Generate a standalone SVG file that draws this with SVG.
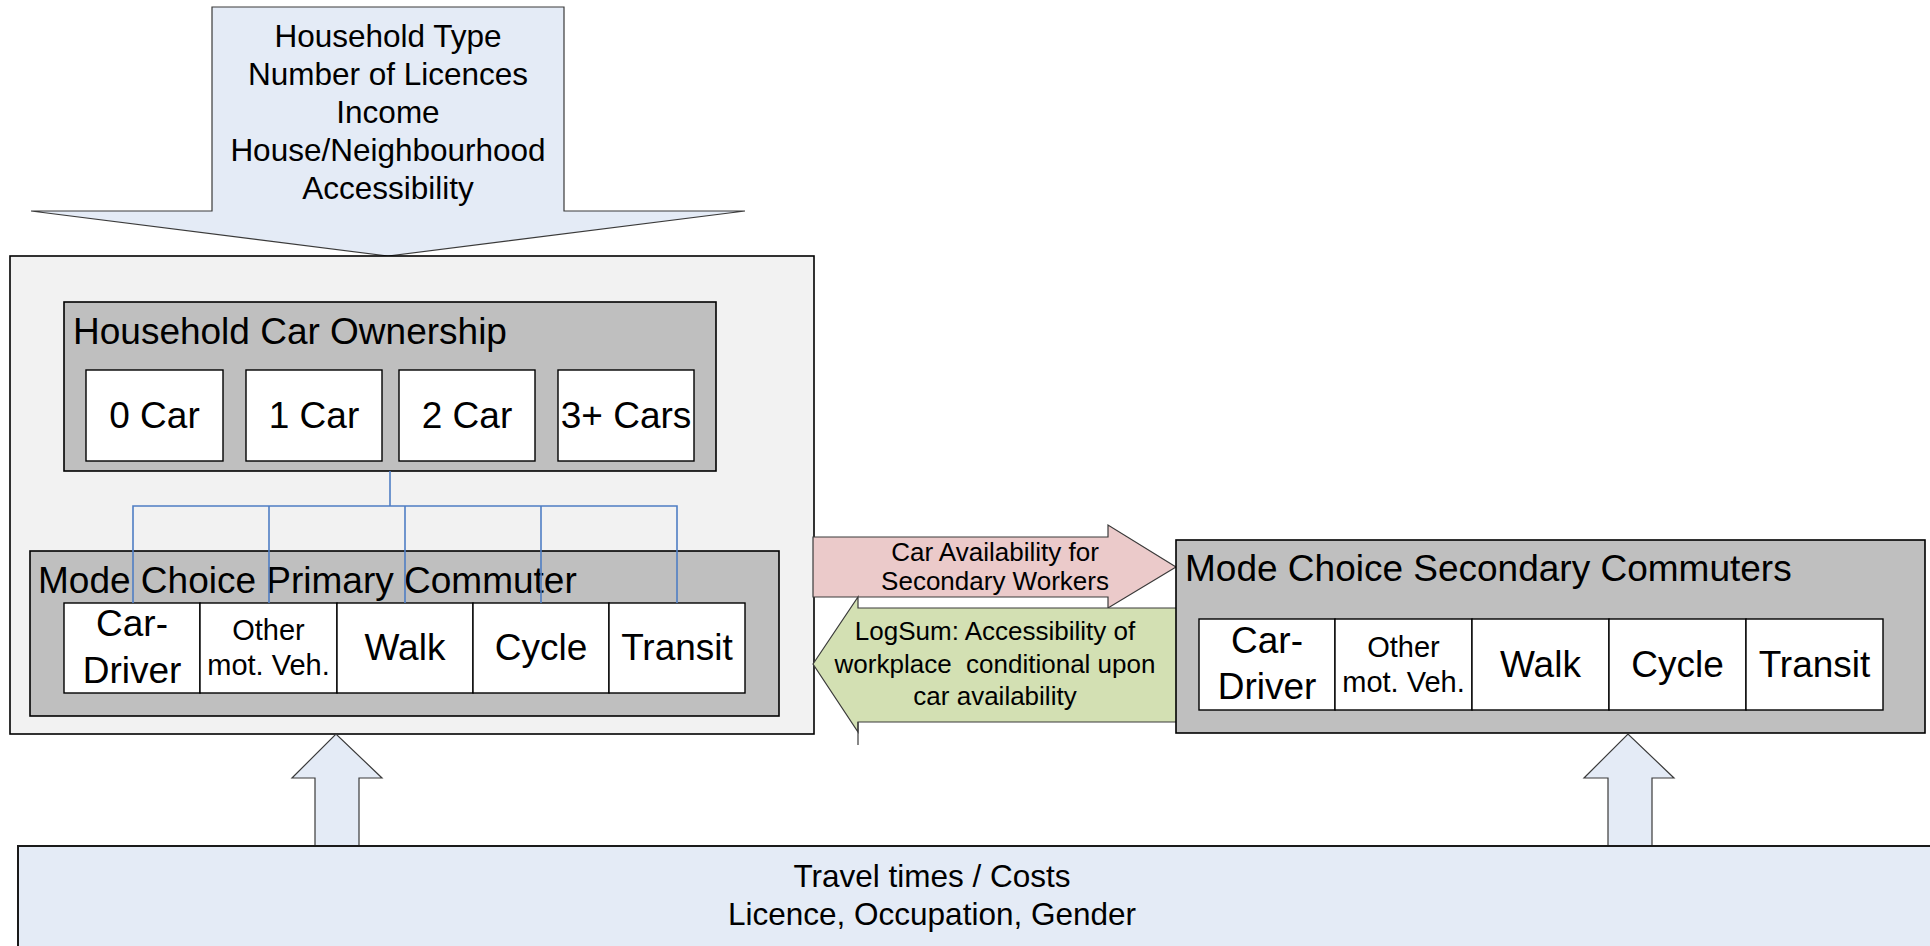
<svg xmlns="http://www.w3.org/2000/svg" width="1930" height="946" viewBox="0 0 1930 946">
  <style>
    text { font-family: "Liberation Sans", Arial, sans-serif; fill: #000; }
    .outer { fill: #f2f2f2; stroke: #000; stroke-width: 1.6; }
    .group { fill: #bfbfbf; stroke: #000; stroke-width: 1.6; }
    .cell { fill: #fff; stroke: #000; stroke-width: 1.4; }
    .blue { fill: #e4ebf6; stroke: #3a3a3a; stroke-width: 1.2; }
    .pink { fill: #ebcaca; stroke: #3a3a3a; stroke-width: 1.2; }
    .green { fill: #d3e0b3; stroke: #3a3a3a; stroke-width: 1.2; }
    .title { font-size: 37px; }
    .big { font-size: 37px; text-anchor: middle; }
    .small { font-size: 29px; text-anchor: middle; }
    .note { font-size: 26px; text-anchor: middle; }
    .input { font-size: 31.5px; text-anchor: middle; }
    .link { fill: none; stroke: #4f7ec4; stroke-width: 1.6; }
  </style>

  <!-- household attributes feeding down -->
  <g id="household-inputs">
    <polygon class="blue" points="212,7 564,7 564,211 745,211 388,256 31,211 212,211"/>
    <text class="input" x="388" y="47">Household Type</text>
    <text class="input" x="388" y="85">Number of Licences</text>
    <text class="input" x="388" y="123">Income</text>
    <text class="input" x="388" y="161">House/Neighbourhood</text>
    <text class="input" x="388" y="199">Accessibility</text>
  </g>

  <!-- primary worker block -->
  <g id="primary-block">
    <rect class="outer" x="10" y="256" width="804" height="478"/>
  </g>

  <g id="car-ownership">
    <rect class="group" x="64" y="302" width="652" height="169"/>
    <text class="title" x="73" y="344">Household Car Ownership</text>
    <rect class="cell" x="86" y="370" width="137" height="91"/>
    <text class="big" x="154.5" y="428">0 Car</text>
    <rect class="cell" x="246" y="370" width="136" height="91"/>
    <text class="big" x="314" y="428">1 Car</text>
    <rect class="cell" x="399" y="370" width="136" height="91"/>
    <text class="big" x="467" y="428">2 Car</text>
    <rect class="cell" x="558" y="370" width="136" height="91"/>
    <text class="big" x="626" y="428">3+ Cars</text>
  </g>

  <g id="mode-primary">
    <rect class="group" x="30" y="551" width="749" height="165"/>
    <text class="title" x="38" y="593">Mode Choice Primary Commuter</text>
    <rect class="cell" x="64" y="603" width="136" height="90"/>
    <rect class="cell" x="200" y="603" width="137" height="90"/>
    <rect class="cell" x="337" y="603" width="136" height="90"/>
    <rect class="cell" x="473" y="603" width="136" height="90"/>
    <rect class="cell" x="609" y="603" width="136" height="90"/>
    <text class="big" x="132" y="636">Car-</text>
    <text class="big" x="132" y="683">Driver</text>
    <text class="small" x="268.5" y="640">Other</text>
    <text class="small" x="268.5" y="675">mot. Veh.</text>
    <text class="big" x="405" y="660">Walk</text>
    <text class="big" x="541" y="660">Cycle</text>
    <text class="big" x="677" y="660">Transit</text>
  </g>

  <!-- tree from car ownership to each mode -->
  <g id="connectors">
    <line class="link" x1="390" y1="471" x2="390" y2="506" stroke-width="2.2"/>
    <polyline class="link" points="133,603 133,506 677,506 677,603"/>
    <line class="link" x1="269" y1="506" x2="269" y2="603"/>
    <line class="link" x1="405" y1="506" x2="405" y2="603"/>
    <line class="link" x1="541" y1="506" x2="541" y2="603"/>
  </g>

  <!-- exchange between primary and secondary models -->
  <g id="car-availability">
    <polygon class="pink" points="813,537 1108,537 1108,525 1176,567 1108,608 1108,597 813,597"/>
    <text class="note" x="995" y="561">Car Availability for</text>
    <text class="note" x="995" y="590">Secondary Workers</text>
  </g>

  <g id="logsum">
    <polygon class="green" points="813,664 858,597 858,608 1177,608 1177,722 858,722 858,732"/>
    <line x1="858" y1="722" x2="858" y2="745" stroke="#3a3a3a" stroke-width="1.2"/>
    <text class="note" x="995" y="640">LogSum: Accessibility of</text>
    <text class="note" x="995" y="673" xml:space="preserve">workplace  conditional upon</text>
    <text class="note" x="995" y="705">car availability</text>
  </g>

  <g id="mode-secondary">
    <rect class="group" x="1176" y="540" width="749" height="193"/>
    <text class="title" x="1185" y="581">Mode Choice Secondary Commuters</text>
    <rect class="cell" x="1199" y="619" width="136" height="91"/>
    <rect class="cell" x="1335" y="619" width="137" height="91"/>
    <rect class="cell" x="1472" y="619" width="137" height="91"/>
    <rect class="cell" x="1609" y="619" width="137" height="91"/>
    <rect class="cell" x="1746" y="619" width="137" height="91"/>
    <text class="big" x="1267" y="653">Car-</text>
    <text class="big" x="1267" y="699">Driver</text>
    <text class="small" x="1403.5" y="657">Other</text>
    <text class="small" x="1403.5" y="692">mot. Veh.</text>
    <text class="big" x="1540.5" y="677">Walk</text>
    <text class="big" x="1677.5" y="677">Cycle</text>
    <text class="big" x="1814.5" y="677">Transit</text>
  </g>

  <!-- network and person inputs feeding up -->
  <g id="up-arrows">
    <polygon class="blue" points="315,847 315,778 292,778 336,734 382,778 359,778 359,847"/>
    <polygon class="blue" points="1608,847 1608,778 1584,778 1628,734 1674,778 1652,778 1652,847"/>
  </g>

  <g id="travel-inputs">
    <rect x="18" y="846" width="1930" height="130" fill="#e4ebf6" stroke="#1a1a1a" stroke-width="2"/>
    <text class="input" x="932" y="887">Travel times / Costs</text>
    <text class="input" x="932" y="925">Licence, Occupation, Gender</text>
  </g>
</svg>
